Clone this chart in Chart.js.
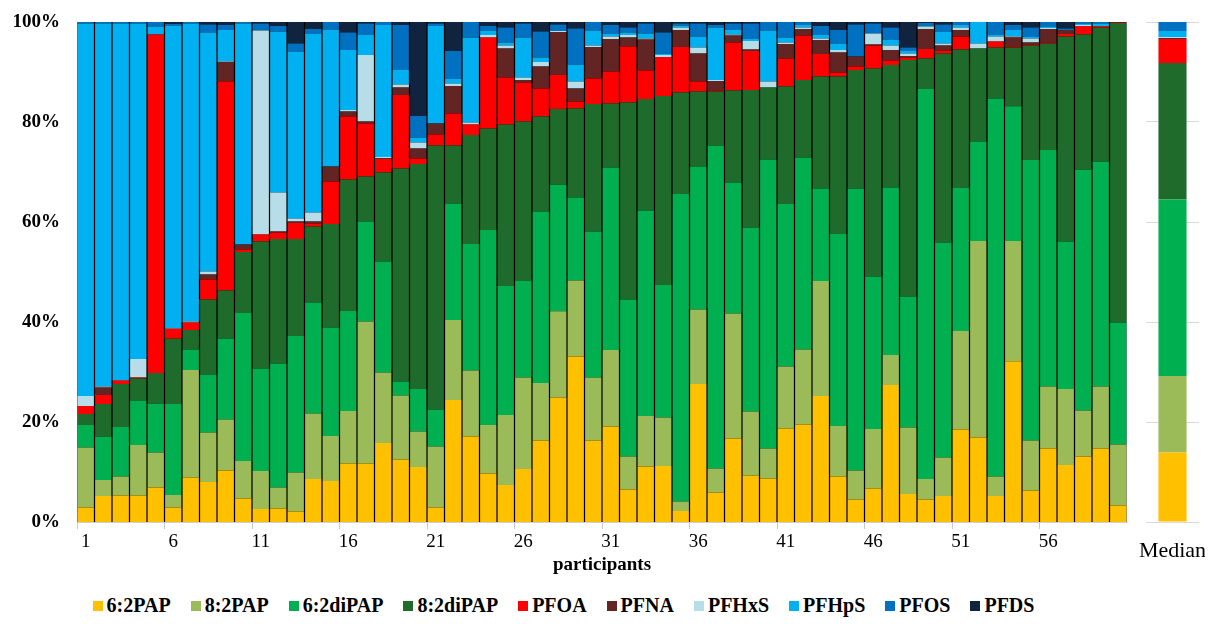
<!DOCTYPE html>
<html>
<head>
<meta charset="utf-8">
<script src="https://cdn.jsdelivr.net/npm/chart.js@4"></script>
<style>
    body { margin: 0; background: #fff; width: 1208px; height: 624px; position: relative; overflow: hidden; }
    #mainWrap { position: absolute; left: 0; top: 0; width: 1135px; height: 580px; }
    #medWrap { position: absolute; left: 1122px; top: 0; width: 83px; height: 580px; }
    #legend { position: absolute; left: 0; top: 594px; width: 1127px; display: flex; justify-content: center;
              font: bold 20px "Liberation Serif", serif; color: #000; }
    .item { display: flex; align-items: center; margin: 0 10px; white-space: nowrap; }
    .box { width: 10px; height: 10px; margin-right: 4px; }
</style>
</head>
<body>
<div id="mainWrap"><canvas id="mainChart"></canvas></div>
<div id="medWrap"><canvas id="medianChart"></canvas></div>
<div id="legend"></div>
<script>
const participants = Array.from({ length: 60 }, (_, i) => String(i + 1));

const seriesNames = ['6:2PAP', '8:2PAP', '6:2diPAP', '8:2diPAP', 'PFOA', 'PFNA', 'PFHxS', 'PFHpS', 'PFOS', 'PFDS'];
const seriesColors = ['#FFC000', '#9BBB59', '#00B050', '#1F6B2B', '#FF0000', '#632523', '#B7DEE8', '#00B0F0', '#0070C0', '#10243F'];

// share of each compound per participant (%)
const pap62 = [2.9,5.2,5.3,5.3,6.9,2.9,8.9,8.0,10.3,4.7, 2.6,2.7,2.1,8.6,8.2,11.7,11.7,15.8,12.5,11.0,
    2.9,24.4,17.1,9.7,7.4,10.6,16.3,24.9,33.1,16.3, 19.1,6.5,11.1,11.2,2.2,27.6,5.9,16.7,9.3,8.7,
    18.7,19.5,25.2,9.1,4.5,6.7,27.4,5.6,4.5,5.2, 18.5,16.9,5.2,32.3,6.3,14.7,11.4,13.1,14.7,3.3];
const pap82 = [12.0,3.2,3.8,10.1,7.0,2.5,21.5,9.9,10.2,7.5, 7.6,4.2,7.8,13.1,9.0,10.5,28.4,14.1,12.8,7.1,
    12.2,16.0,13.2,9.7,14.0,18.3,11.5,17.3,15.2,12.6, 15.3,6.6,10.1,9.7,1.9,14.9,4.8,25.0,12.8,6.0,
    12.4,15.0,23.0,10.1,5.8,11.9,6.0,13.3,4.1,7.7, 19.7,39.3,3.9,24.1,10.0,12.4,15.2,9.2,12.4,12.2];
const dipap62 = [4.5,8.7,9.9,8.9,9.8,18.2,4.1,11.6,16.2,29.6, 20.5,24.8,27.3,22.2,21.7,20.0,20.0,22.2,2.8,8.5,
    7.4,23.3,25.3,39.0,25.8,19.4,34.3,25.3,16.6,29.2, 36.5,31.4,41.1,26.5,61.5,28.6,64.6,26.2,36.8,57.8,
    32.5,38.4,18.5,38.4,56.4,30.5,33.5,26.2,78.0,43.0, 28.7,19.9,75.6,27.1,56.1,47.3,29.5,48.2,45.0,24.4];
const dipap82 = [2.2,6.5,8.6,4.4,6.1,13.1,3.9,15.0,9.6,12.2, 25.4,24.9,19.4,15.2,20.7,26.3,9.0,17.8,42.6,45.0,
    52.8,11.6,21.8,20.3,32.3,31.8,19.0,15.2,17.8,25.5, 12.8,39.4,22.3,37.8,20.3,15.0,10.8,18.4,27.5,14.4,
    23.5,15.5,22.4,31.5,23.7,41.6,24.5,47.3,6.1,37.8, 27.6,18.6,10.2,11.8,22.9,21.3,41.0,27.0,26.8,59.9];
const pfoa = [1.6,1.8,0.7,0.2,67.7,2.0,1.5,4.0,41.8,0.5, 1.4,1.3,3.2,0.6,8.5,12.6,10.6,2.7,14.7,1.1,
    2.2,6.4,2.1,18.2,9.4,7.8,5.6,6.8,1.4,5.1, 6.4,11.2,5.7,7.8,9.1,2.0,0.2,9.6,7.8,0,
    5.6,8.9,4.5,0.8,0.7,4.6,0.9,0.5,1.9,0.6, 2.6,0,1.2,0.2,0.2,0.2,0.5,1.7,0.3,0.1];
const pfna = [0,1.5,0,0,0,0,0,1.0,3.9,1.0, 0,0.2,0.3,0.4,3.0,1.0,0.4,0.2,1.5,2.0,
    2.2,5.5,0,0,5.8,0.5,4.4,8.6,2.6,6.3, 6.5,1.8,6.2,0,3.4,5.6,1.9,1.4,0.3,0,
    2.9,1.3,2.8,4.0,2.0,0.2,2.1,0.3,4.0,1.0, 1.3,0,0,1.8,0.4,2.7,0.8,0,0,0.1];
const pfhxs = [2.0,0.2,0.1,3.7,0,0.1,0.2,0.6,0.1,0, 40.8,7.8,0.6,1.8,0,0.3,13.3,0.2,0.6,1.2,
    0,0.5,0.4,0.5,0.6,0.5,0.9,0.2,1.4,0.3, 0.5,0.5,0.2,0.4,0.5,1.2,0.2,0.2,1.7,1.2,
    0.3,0.3,0.3,0.5,0,2.2,0.9,0.5,0.5,0.4, 0.5,1.0,1.0,0.2,0.8,0.2,0,0.2,0,0];
const pfhps = [74.5,72.6,71.3,67.1,1.6,60.6,59.6,47.8,6.3,44.2, 0,32.2,33.4,35.7,27.4,12.0,4.1,26.4,2.9,1.0,
    19.5,0.9,17.0,0.9,0.6,8.0,0.9,0,3.4,3.0, 0.5,0.5,1.0,0.3,0.4,2.2,10.5,0.9,0.4,10.2,
    1.0,0.5,0.7,1.3,0,0,1.1,0.5,0.2,2.4, 0.5,4.3,0.3,1.3,0.3,0.3,0,0.3,0.5,0];
const pfos = [0.3,0.3,0.3,0.3,0.9,0.3,0.3,1.6,1.0,0.3, 1.4,1.1,1.6,1.0,1.5,3.5,2.2,0.6,9.0,4.3,
    0.5,5.6,3.1,0.9,3.0,2.8,5.2,1.3,7.2,1.7, 1.8,1.0,2.0,4.2,0.4,2.6,0.5,1.3,3.1,1.7,
    3.1,0.6,1.8,2.7,6.4,2.0,2.5,0.7,0.5,1.4, 0.6,0,2.6,1.0,1.9,0.9,0.3,0.3,0.3,0];
const pfds = [0,0,0,0,0,0.4,0,0.5,0.6,0, 0.3,0.8,4.3,1.4,0,2.1,0.3,0,0.6,18.8,
    0.3,5.8,0,0.8,1.1,0.3,1.9,0.5,1.3,0, 0.6,1.1,0.3,2.1,0.3,0.3,0.6,0.3,0.3,0,
    0,0,0.8,1.6,0.5,0.3,1.1,5.1,0.2,0.5, 0,0,0,0.6,1.1,0,1.3,0,0,0];

// median profile, same order as seriesNames
const medianShares = [13.9, 15.3, 35.3, 27.3, 4.8, 0.2, 0.2, 1.2, 1.8, 0];

const allSeries = [pap62, pap82, dipap62, dipap82, pfoa, pfna, pfhxs, pfhps, pfos, pfds];

// scale every participant to 100%
const totals = participants.map((_, i) => allSeries.reduce((s, arr) => s + arr[i], 0));
const medTotal = medianShares.reduce((a, b) => a + b, 0);

const serif = '"Liberation Serif", "Times New Roman", serif';

const blackGaps = {
    id: 'blackGaps',
    beforeDatasetsDraw(chart) {
        const a = chart.chartArea;
        const ctx = chart.ctx;
        ctx.save();
        ctx.fillStyle = '#000';
        ctx.fillRect(a.left + 0.5, a.top, a.right - a.left - 1, a.bottom - a.top);
        ctx.restore();
    }
};

new Chart(document.getElementById('mainChart'), {
    type: 'bar',
    data: {
        labels: participants,
        datasets: allSeries.map((arr, k) => ({
            label: seriesNames[k],
            data: arr.map((v, i) => v / totals[i] * 100),
            backgroundColor: seriesColors[k],
            borderWidth: 0,
            barPercentage: 0.93,
            categoryPercentage: 1.0
        }))
    },
    options: {
        responsive: true,
        maintainAspectRatio: false,
        animation: false,
        layout: { padding: { top: 22, right: 8, left: 0, bottom: 0 } },
        plugins: { legend: { display: false }, tooltip: { enabled: false } },
        scales: {
            x: {
                stacked: true,
                afterFit: s => { s.height = 58; },
                grid: {
                    drawOnChartArea: false,
                    tickLength: 7,
                    color: ctx => ctx.index % 5 === 0 ? '#c8c8c8' : 'rgba(0,0,0,0)'
                },
                border: { color: '#d0d0d0' },
                ticks: {
                    autoSkip: false,
                    maxRotation: 0,
                    padding: 2,
                    color: '#000',
                    font: { family: serif, size: 19 },
                    callback: (v, i) => i % 5 === 0 ? participants[i] : ''
                },
                title: {
                    display: true,
                    text: 'participants',
                    color: '#000',
                    font: { family: serif, size: 19, weight: 'bold' },
                    padding: { top: 0, bottom: 4 }
                }
            },
            y: {
                stacked: true,
                min: 0,
                max: 100,
                afterFit: s => { s.width = 77; s.paddingTop = 0; s.paddingBottom = 0; },
                grid: { display: false, drawTicks: false },
                border: { color: '#c8c8c8' },
                ticks: {
                    stepSize: 20,
                    padding: 17,
                    color: '#000',
                    font: { family: serif, size: 19, weight: 'bold' },
                    callback: v => v + '%'
                }
            }
        }
    },
    plugins: [blackGaps]
});

new Chart(document.getElementById('medianChart'), {
    type: 'bar',
    data: {
        labels: ['Median'],
        datasets: medianShares.map((v, k) => ({
            label: seriesNames[k],
            data: [v / medTotal * 100],
            backgroundColor: seriesColors[k],
            borderWidth: 0,
            barPercentage: 0.53,
            categoryPercentage: 1.0
        }))
    },
    options: {
        responsive: true,
        maintainAspectRatio: false,
        animation: false,
        layout: { padding: { top: 22, right: 6, left: 24, bottom: 0 } },
        plugins: { legend: { display: false }, tooltip: { enabled: false } },
        scales: {
            x: {
                stacked: true,
                afterFit: s => { s.height = 58; s.paddingLeft = 0; s.paddingRight = 0; },
                grid: { display: false },
                border: { display: false },
                ticks: { padding: 8, maxRotation: 0, color: '#000', font: { family: serif, size: 22 } }
            },
            y: {
                stacked: true,
                min: 0,
                max: 100,
                afterFit: s => { s.width = 0; s.paddingTop = 0; s.paddingBottom = 0; },
                grid: { color: '#d9d9d9', drawTicks: false },
                border: { display: false },
                ticks: { display: false, stepSize: 20 }
            }
        }
    }
});

// legend built from the same names and colours
const legendEl = document.getElementById('legend');
seriesNames.forEach((name, k) => {
    const item = document.createElement('div');
    item.className = 'item';
    const box = document.createElement('span');
    box.className = 'box';
    box.style.background = seriesColors[k];
    const txt = document.createElement('span');
    txt.textContent = name;
    item.appendChild(box);
    item.appendChild(txt);
    legendEl.appendChild(item);
});
</script>
</body>
</html>
